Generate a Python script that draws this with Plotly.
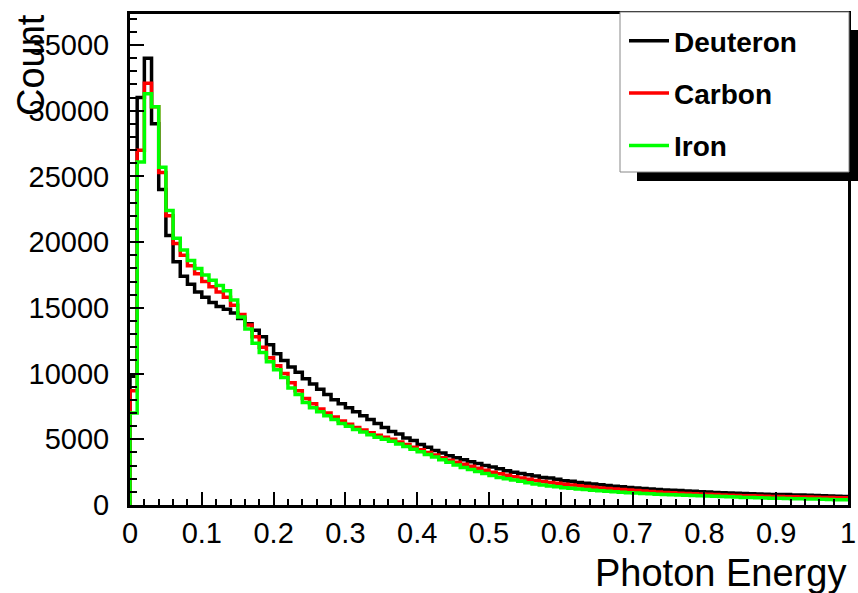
import plotly.graph_objects as go

# ---------------- data ----------------
n_bins = 100
x_min, x_max = 0.0, 1.0
bin_edges = [round(x_min + i * (x_max - x_min) / n_bins, 4) for i in range(n_bins + 1)]

deuteron = [
    9800, 31000, 34000, 29000, 24000, 20500, 18500, 17400, 16800, 16200,
    15800, 15400, 15100, 14900, 14600, 14200, 13800, 13300, 12800, 12200,
    11500, 11000, 10500, 10100, 9600, 9200, 8800, 8400, 8000, 7700,
    7400, 7100, 6800, 6500, 6200, 5900, 5600, 5400, 5100, 4900,
    4600, 4400, 4150, 3950, 3750, 3600, 3450, 3300, 3150, 3000,
    2900, 2750, 2600, 2500, 2400, 2300, 2200, 2100, 2050, 1950,
    1850, 1800, 1720, 1650, 1600, 1550, 1480, 1420, 1380, 1330,
    1300, 1260, 1220, 1180, 1150, 1120, 1100, 1070, 1040, 1010,
    980, 960, 940, 910, 890, 870, 850, 830, 815, 805,
    800, 790, 770, 760, 740, 730, 710, 690, 670, 650,
]
carbon = [
    8700, 27000, 32100, 30300, 25300, 22000, 19900, 19000, 18200, 17600,
    17000, 16600, 16200, 15800, 15200, 14500, 13700, 12800, 12000, 11200,
    10600, 10000, 9300, 8700, 8100, 7700, 7300, 7000, 6700, 6400,
    6150, 5900, 5700, 5500, 5300, 5150, 5000, 4800, 4600, 4400,
    4200, 4000, 3800, 3600, 3400, 3250, 3100, 2950, 2800, 2650,
    2500, 2380, 2260, 2150, 2050, 1960, 1870, 1790, 1720, 1650,
    1580, 1520, 1460, 1400, 1350, 1300, 1260, 1220, 1180, 1140,
    1100, 1060, 1020, 990, 960, 930, 900, 880, 850, 830,
    810, 790, 770, 750, 730, 710, 700, 680, 670, 650,
    640, 630, 620, 610, 600, 590, 580, 570, 560, 550,
]
iron = [
    7000, 26100, 31300, 30300, 25700, 22400, 20300, 19400, 18600, 18000,
    17500, 17100, 16700, 16300, 15600, 14300, 13400, 12300, 11600, 10900,
    10300, 9700, 8900, 8400, 7800, 7400, 7100, 6800, 6500, 6200,
    6000, 5750, 5550, 5350, 5150, 5000, 4850, 4650, 4450, 4250,
    4050, 3850, 3650, 3450, 3250, 3050, 2850, 2700, 2550, 2400,
    2250, 2100, 2000, 1900, 1800, 1700, 1600, 1520, 1450, 1380,
    1320, 1270, 1220, 1170, 1120, 1080, 1040, 1000, 970, 940,
    910, 880, 850, 820, 800, 780, 760, 740, 720, 700,
    680, 660, 640, 620, 600, 580, 570, 550, 540, 520,
    510, 500, 480, 470, 460, 450, 430, 420, 400, 390,
]

series_names = ["Deuteron", "Carbon", "Iron"]
series_values = [deuteron, carbon, iron]
series_colors = ["#000000", "#ff0000", "#00ff00"]

x_tick_values = [round(0.1 * i, 1) for i in range(11)]
x_tick_labels = ["0", "0.1", "0.2", "0.3", "0.4", "0.5", "0.6", "0.7", "0.8", "0.9", "1"]
y_tick_values = [0, 5000, 10000, 15000, 20000, 25000, 30000, 35000]
y_tick_labels = ["0", "5000", "10000", "15000", "20000", "25000", "30000", "35000"]

# ---------------- figure ----------------
W, H = 858, 593
ML, MR, MT, MB = 130, 10, 14, 88
PW, PH = W - ML - MR, H - MT - MB


def px_x(p):
    return (p - ML) / PW


def px_y(p):
    return (H - MB - p) / PH


def step_xy(vals):
    xs = [bin_edges[0]] + bin_edges[:-1] + [bin_edges[-1]]
    ys = [0] + list(vals) + [vals[-1]]
    return xs, ys


fig = go.Figure()
for name, vals, col in zip(series_names, series_values, series_colors):
    xs, ys = step_xy(vals)
    fig.add_trace(go.Scatter(
        x=xs, y=ys, mode="lines", name=name, legendgroup=name,
        line=dict(color=col, width=3.5, shape="hv"),
    ))

font_family = "Liberation Sans, Arial, Helvetica, sans-serif"

fig.update_layout(
    template="none",
    width=W, height=H,
    margin=dict(l=ML, r=MR, t=MT, b=MB, autoexpand=False),
    paper_bgcolor="white", plot_bgcolor="white",
    font=dict(family=font_family, color="black"),
    showlegend=True,
    legend=dict(
        x=px_x(624), y=px_y(16), xanchor="left", yanchor="top",
        bgcolor="rgba(0,0,0,0)", borderwidth=0,
        font=dict(size=28, family=font_family, color="black", weight="bold"),
        tracegroupgap=13, itemwidth=40,
    ),
    xaxis=dict(
        range=[x_min, x_max], showgrid=False, zeroline=False, automargin=False,
        showline=True, linewidth=3, linecolor="black", mirror=True,
        ticks="inside", ticklen=13, tickwidth=2, tickcolor="black",
        tickvals=x_tick_values, ticktext=x_tick_labels,
        tickfont=dict(size=29, family=font_family, color="black"),
        minor=dict(ticks="inside", ticklen=6, tickwidth=2, tickcolor="black",
                   dtick=0.02, tick0=0, showgrid=False),
        layer="above traces",
    ),
    yaxis=dict(
        range=[0, 37360], showgrid=False, zeroline=False, automargin=False,
        showline=True, linewidth=3, linecolor="black", mirror=True,
        ticks="inside", ticklen=14, tickwidth=2, tickcolor="black",
        tickvals=y_tick_values, ticktext=y_tick_labels,
        tickfont=dict(size=29, family=font_family, color="black"),
        ticklabelstandoff=12,
        minor=dict(ticks="inside", ticklen=7, tickwidth=2, tickcolor="black",
                   dtick=1000, tick0=0, showgrid=False),
        layer="above traces",
    ),
)

# legend box with shadow (ROOT style)
fig.add_shape(type="rect", xref="paper", yref="paper",
              x0=px_x(637), x1=px_x(858), y0=px_y(181), y1=px_y(30),
              fillcolor="black", line=dict(width=0), layer="above")
fig.add_shape(type="rect", xref="paper", yref="paper",
              x0=px_x(620), x1=px_x(849), y0=px_y(172), y1=px_y(12),
              fillcolor="white", line=dict(color="#888888", width=1), layer="above")

# axis titles
fig.add_annotation(text="Count", xref="paper", yref="paper",
                   x=px_x(31), y=px_y(12), xanchor="center", yanchor="top",
                   textangle=-90, showarrow=False,
                   font=dict(size=38, family=font_family, color="black"))
fig.add_annotation(text="Photon Energy", xref="paper", yref="paper",
                   x=1.0, y=px_y(573), xanchor="right", yanchor="middle",
                   showarrow=False,
                   font=dict(size=38, family=font_family, color="black"))

fig.write_html("out.html")
